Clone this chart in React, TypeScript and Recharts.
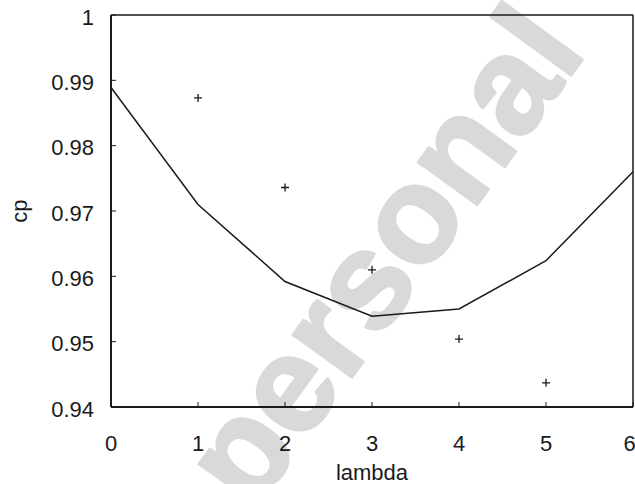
import {
  ComposedChart,
  Line,
  Scatter,
  XAxis,
  YAxis,
  Label,
} from "recharts";

// lambda values on the x axis
const lambdas = [0, 1, 2, 3, 4, 5, 6];
// fitted curve
const curveCp = [0.9889, 0.971, 0.9592, 0.9539, 0.955, 0.9624, 0.976];
// measured points (lambda 1..5)
const pointLambdas = [1, 2, 3, 4, 5];
const pointCp = [0.9873, 0.9736, 0.961, 0.9504, 0.9437];

const xTicks = [0, 1, 2, 3, 4, 5, 6];
const yTicks = [0.94, 0.95, 0.96, 0.97, 0.98, 0.99, 1];

const curveData = lambdas.map((x, i) => ({ x, cp: curveCp[i] }));
const pointData = pointLambdas.map((x, i) => ({ x, cp: pointCp[i] }));

const FONT = "'Liberation Sans', Arial, sans-serif";
const INK = "#1a1a1a";

const Plus = (props: any) => {
  const { cx, cy } = props;
  return (
    <path
      d={`M${cx - 4},${cy}H${cx + 4}M${cx},${cy - 4}V${cy + 4}`}
      stroke={INK}
      strokeWidth={1.3}
      fill="none"
    />
  );
};

const fmtY = (v: number) => (v === 1 ? "1" : v.toFixed(2));

export default function App() {
  return (
    <div style={{ position: "absolute", left: 0, top: 0, width: 635, height: 484 }}>
      {/* watermark sits behind the plot */}
      <svg
        width={635}
        height={484}
        style={{ position: "absolute", left: 0, top: 0 }}
      >
        <text
          x={420}
          y={283}
          textAnchor="middle"
          transform="rotate(-54 420 283)"
          fontFamily={FONT}
          fontWeight="bold"
          fontSize={137}
          fill="#d9d9d9"
          stroke="#d9d9d9"
          strokeWidth={3}
          strokeLinejoin="round"
        >
          personal
        </text>
      </svg>
      <div style={{ position: "absolute", left: 0, top: 0 }}>
        <ComposedChart
          width={635}
          height={484}
          margin={{ top: 14, right: 1, left: 0, bottom: 0 }}
        >
          <XAxis
            xAxisId={0}
            dataKey="x"
            type="number"
            domain={[0, 6]}
            ticks={xTicks}
            allowDuplicatedCategory={false}
            height={77}
            tickSize={-5}
            tickMargin={33}
            axisLine={{ stroke: INK, strokeWidth: 2 }}
            tickLine={{ stroke: INK, strokeWidth: 1 }}
            tick={{ fill: INK, fontSize: 22, fontFamily: FONT }}
          >
            <Label
              value="lambda"
              position="insideBottom"
              offset={4}
              style={{ fill: INK, fontSize: 22, fontFamily: FONT }}
            />
          </XAxis>
          <XAxis
            xAxisId="top"
            orientation="top"
            type="number"
            domain={[0, 6]}
            ticks={xTicks}
            height={1}
            tickSize={-5}
            tick={false}
            axisLine={{ stroke: INK, strokeWidth: 1.5 }}
            tickLine={{ stroke: INK, strokeWidth: 1 }}
          />
          <YAxis
            yAxisId={0}
            type="number"
            domain={[0.94, 1]}
            ticks={yTicks}
            width={111}
            tickSize={-5}
            tickMargin={22}
            tickFormatter={fmtY}
            axisLine={{ stroke: INK, strokeWidth: 2 }}
            tickLine={{ stroke: INK, strokeWidth: 1 }}
            tick={{ fill: INK, fontSize: 22, fontFamily: FONT, dy: 2 }}
          >
            <Label
              content={() => (
                <text
                  x={19}
                  y={211}
                  transform="rotate(-90 19 211)"
                  textAnchor="middle"
                  dominantBaseline="central"
                  fill={INK}
                  fontSize={22}
                  fontFamily={FONT}
                >
                  cp
                </text>
              )}
            />
          </YAxis>
          <YAxis
            yAxisId="right"
            orientation="right"
            type="number"
            domain={[0.94, 1]}
            ticks={yTicks}
            width={1}
            tickSize={-5}
            tick={false}
            axisLine={{ stroke: INK, strokeWidth: 1.5 }}
            tickLine={{ stroke: INK, strokeWidth: 1 }}
          />
          <Line
            data={curveData}
            dataKey="cp"
            type="linear"
            stroke={INK}
            strokeWidth={1.5}
            dot={false}
            activeDot={false}
            isAnimationActive={false}
          />
          <Scatter
            data={pointData}
            dataKey="cp"
            shape={<Plus />}
            isAnimationActive={false}
          />
        </ComposedChart>
      </div>
    </div>
  );
}
